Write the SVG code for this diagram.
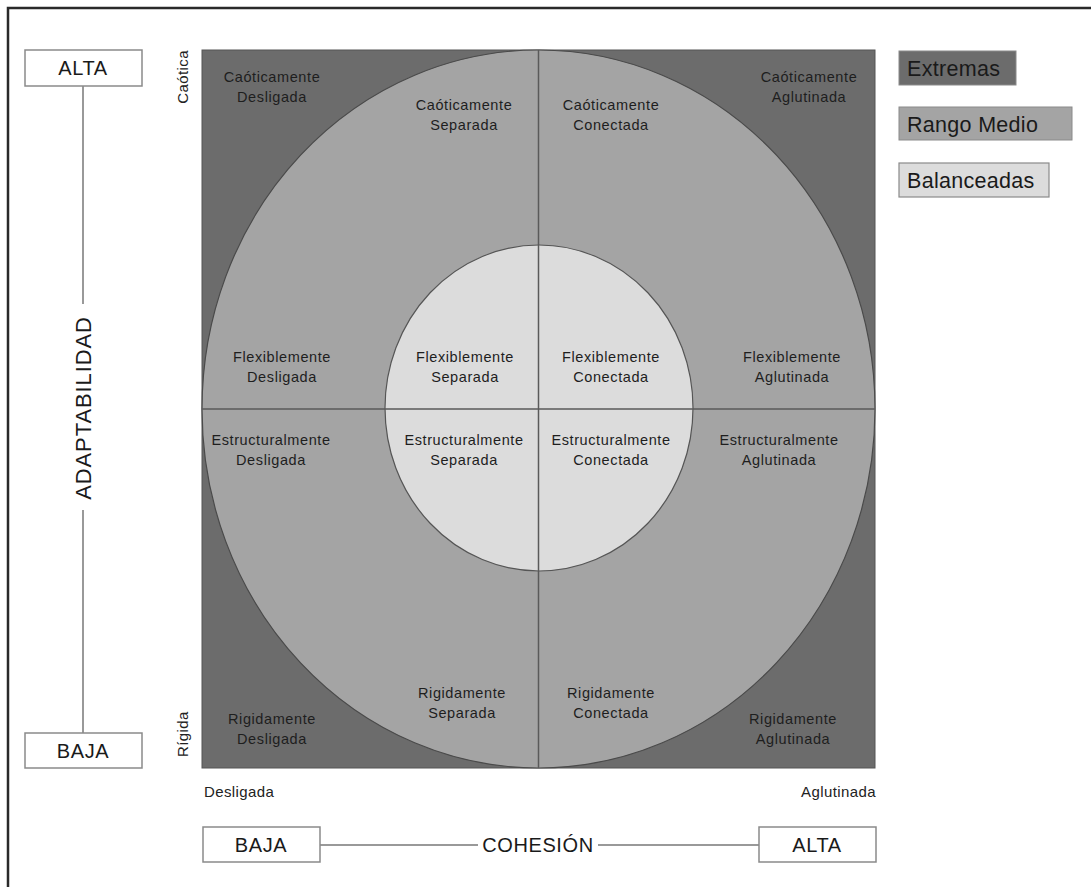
<svg xmlns="http://www.w3.org/2000/svg" width="1091" height="887" viewBox="0 0 1091 887">
<style>
.q{font-family:"Liberation Sans",Arial,sans-serif;font-size:14.5px;fill:#1e1e1e;text-anchor:middle;letter-spacing:0.6px}
.ax{font-family:"Liberation Sans",Arial,sans-serif;font-size:15px;fill:#222;letter-spacing:0.4px}
.big{font-family:"Liberation Sans",Arial,sans-serif;font-size:20px;fill:#1a1a1a;text-anchor:middle;letter-spacing:0.6px}
.leg{font-family:"Liberation Sans",Arial,sans-serif;font-size:21.5px;fill:#1a1a1a;letter-spacing:0.3px}
.box{fill:#fff;stroke:#8a8a8a;stroke-width:1.5}
.conn{stroke:#777;stroke-width:1.5;fill:none}
</style>
<rect width="1091" height="887" fill="#fff"/>
<path d="M8,887 V8 H1091" fill="none" stroke="#2a2a2a" stroke-width="2.5"/>

<g id="chart">
  <rect x="202" y="50" width="673" height="718" fill="#6c6c6c" stroke="#555" stroke-width="1"/>
  <ellipse cx="538.5" cy="409" rx="336.5" ry="359" fill="#a4a4a4" stroke="#4a4a4a" stroke-width="1.2"/>
  <ellipse cx="539" cy="408" rx="154" ry="163" fill="#dcdcdc" stroke="#555" stroke-width="1.2"/>
  <line x1="538.5" y1="50" x2="538.5" y2="768" stroke="#5a5a5a" stroke-width="1.5"/>
  <line x1="202" y1="409" x2="875" y2="409" stroke="#5a5a5a" stroke-width="1.5"/>
</g>

<g id="labels-caotica">
  <text class="q" x="272" y="82">Caóticamente<tspan x="272" dy="20">Desligada</tspan></text>
  <text class="q" x="464" y="110">Caóticamente<tspan x="464" dy="20">Separada</tspan></text>
  <text class="q" x="611" y="110">Caóticamente<tspan x="611" dy="20">Conectada</tspan></text>
  <text class="q" x="809" y="82">Caóticamente<tspan x="809" dy="20">Aglutinada</tspan></text>
</g>
<g id="labels-flexible">
  <text class="q" x="282" y="362">Flexiblemente<tspan x="282" dy="20">Desligada</tspan></text>
  <text class="q" x="465" y="362">Flexiblemente<tspan x="465" dy="20">Separada</tspan></text>
  <text class="q" x="611" y="362">Flexiblemente<tspan x="611" dy="20">Conectada</tspan></text>
  <text class="q" x="792" y="362">Flexiblemente<tspan x="792" dy="20">Aglutinada</tspan></text>
</g>
<g id="labels-estructural">
  <text class="q" x="271" y="445">Estructuralmente<tspan x="271" dy="20">Desligada</tspan></text>
  <text class="q" x="464" y="445">Estructuralmente<tspan x="464" dy="20">Separada</tspan></text>
  <text class="q" x="611" y="445">Estructuralmente<tspan x="611" dy="20">Conectada</tspan></text>
  <text class="q" x="779" y="445">Estructuralmente<tspan x="779" dy="20">Aglutinada</tspan></text>
</g>
<g id="labels-rigida">
  <text class="q" x="272" y="724">Rigidamente<tspan x="272" dy="20">Desligada</tspan></text>
  <text class="q" x="462" y="698">Rigidamente<tspan x="462" dy="20">Separada</tspan></text>
  <text class="q" x="611" y="698">Rigidamente<tspan x="611" dy="20">Conectada</tspan></text>
  <text class="q" x="793" y="724">Rigidamente<tspan x="793" dy="20">Aglutinada</tspan></text>
</g>

<g id="axis-labels">
  <text class="ax" transform="translate(188,50) rotate(-90)" text-anchor="end">Caótica</text>
  <text class="ax" transform="translate(188,757) rotate(-90)" text-anchor="start">Rígida</text>
  <text class="ax" x="204" y="797">Desligada</text>
  <text class="ax" x="876" y="797" text-anchor="end">Aglutinada</text>
</g>

<g id="connectors">
  <line class="conn" x1="83" y1="86" x2="83" y2="304"/>
  <line class="conn" x1="83" y1="510" x2="83" y2="733"/>
  <line class="conn" x1="320" y1="845" x2="478" y2="845"/>
  <line class="conn" x1="598" y1="845" x2="759" y2="845"/>
</g>

<g id="adaptabilidad-alta">
  <rect class="box" x="25" y="50" width="117" height="36"/>
  <text class="big" x="83" y="75">ALTA</text>
</g>
<g id="adaptabilidad-baja">
  <rect class="box" x="25" y="733" width="117" height="35"/>
  <text class="big" x="83" y="758">BAJA</text>
</g>
<g id="adaptabilidad-title">
  <text class="big" transform="translate(91,408) rotate(-90)" style="font-size:22px;letter-spacing:0.9px">ADAPTABILIDAD</text>
</g>
<g id="cohesion-baja">
  <rect class="box" x="203" y="827" width="117" height="35"/>
  <text class="big" x="261" y="852">BAJA</text>
</g>
<g id="cohesion-alta">
  <rect class="box" x="759" y="827" width="117" height="35"/>
  <text class="big" x="817" y="852">ALTA</text>
</g>
<g id="cohesion-title">
  <text class="big" x="538" y="852">COHESIÓN</text>
</g>

<g id="legend-extremas">
  <rect x="899" y="51" width="117" height="34" fill="#6c6c6c" stroke="#8a8a8a" stroke-width="1"/>
  <text class="leg" x="907" y="76">Extremas</text>
</g>
<g id="legend-rango">
  <rect x="899" y="107" width="173" height="33" fill="#a4a4a4" stroke="#8a8a8a" stroke-width="1"/>
  <text class="leg" x="907" y="132">Rango Medio</text>
</g>
<g id="legend-balanceadas">
  <rect x="899" y="163" width="150" height="34" fill="#dcdcdc" stroke="#8a8a8a" stroke-width="1.2"/>
  <text class="leg" x="907" y="188">Balanceadas</text>
</g>
</svg>
